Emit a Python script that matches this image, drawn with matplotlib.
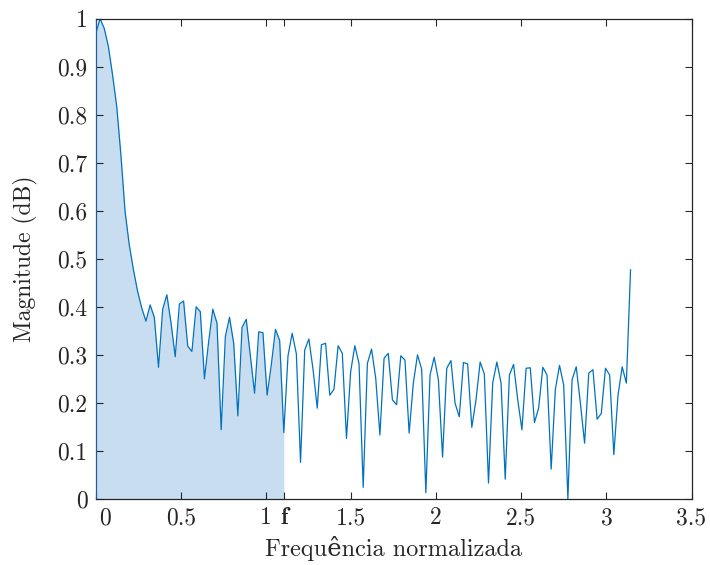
import numpy as np
import matplotlib
matplotlib.use('Agg')
from matplotlib import pyplot as plt
from matplotlib import transforms

plt.rcParams['font.family'] = ['cmr10', 'DejaVu Serif']
plt.rcParams['mathtext.fontset'] = 'cm'
plt.rcParams['axes.formatter.use_mathtext'] = True

# magnitude samples, 129 points from 0 to pi
mag = [0.969, 1.0, 0.980, 0.942, 0.883, 0.817, 0.716, 0.598, 0.529, 0.477,
       0.432, 0.397, 0.370, 0.404, 0.378, 0.274, 0.395, 0.425, 0.366, 0.296,
       0.406, 0.412, 0.318, 0.307, 0.400, 0.390, 0.250, 0.327, 0.395, 0.366,
       0.144, 0.338, 0.378, 0.324, 0.173, 0.357, 0.374, 0.296, 0.220, 0.348,
       0.346, 0.216, 0.279, 0.353, 0.330, 0.138, 0.298, 0.345, 0.302, 0.076,
       0.310, 0.333, 0.269, 0.189, 0.321, 0.324, 0.216, 0.228, 0.319, 0.303,
       0.126, 0.265, 0.319, 0.282, 0.024, 0.282, 0.312, 0.251, 0.133, 0.293,
       0.303, 0.206, 0.196, 0.298, 0.289, 0.137, 0.241, 0.300, 0.270, 0.013,
       0.258, 0.295, 0.248, 0.087, 0.272, 0.288, 0.199, 0.171, 0.284, 0.281,
       0.149, 0.206, 0.285, 0.260, 0.033, 0.241, 0.285, 0.241, 0.041, 0.258,
       0.280, 0.206, 0.144, 0.272, 0.273, 0.159, 0.189, 0.274, 0.258, 0.062,
       0.228, 0.278, 0.237, 0.000, 0.248, 0.275, 0.199, 0.116, 0.262, 0.269,
       0.166, 0.178, 0.272, 0.258, 0.092, 0.216, 0.275, 0.241, 0.477]
w = np.linspace(0, np.pi, len(mag))
mag = np.array(mag)

f_cut = 45  # index of cutoff frequency
xticks = [0, 0.5, 1, w[f_cut], 1.5, 2, 2.5, 3, 3.5]
xticklabels = ['0', '0.5', '1', 'f', '1.5', '2', '2.5', '3', '3.5']
yticks = np.round(np.arange(0, 1.01, 0.1), 1)
yticklabels = ['0'] + ['%.1f' % v for v in yticks[1:-1]] + ['1']

blue = '#0072BD'
fill_c = '#c8ddf0'

fig = plt.figure(figsize=(7.1, 5.65), dpi=100)
ax = fig.add_axes([0.135, 0.117, 0.839, 0.850])

ax.fill_between(w[:f_cut + 1], 0, mag[:f_cut + 1], color=fill_c, lw=0)
ax.plot(w, mag, color=blue, lw=0.9)

ax.set_xlim(0, 3.5)
ax.set_ylim(0, 1)
ax.set_xticks(xticks)
ax.set_xticklabels(xticklabels)
ax.set_yticks(yticks)
ax.set_yticklabels(yticklabels)
ax.tick_params(direction='in', top=True, right=True, labelsize=17,
               length=5, width=0.8, colors='#262626', pad=6)
for s in ax.spines.values():
    s.set_color('#262626')
    s.set_linewidth(0.9)
ax.spines['left'].set_color('#1f5f9a')

labs = ax.get_xticklabels()
labs[3].set_fontfamily('cmb10')
off = transforms.ScaledTranslation(9 / 100, 0, fig.dpi_scale_trans)
labs[0].set_transform(labs[0].get_transform() + off)

ax.set_xlabel('Frequência normalizada', fontsize=17.5, color='#262626', labelpad=5)
ax.set_ylabel('Magnitude (dB)', fontsize=17, color='#262626', labelpad=14)

fig.savefig('out.png', dpi=100)
